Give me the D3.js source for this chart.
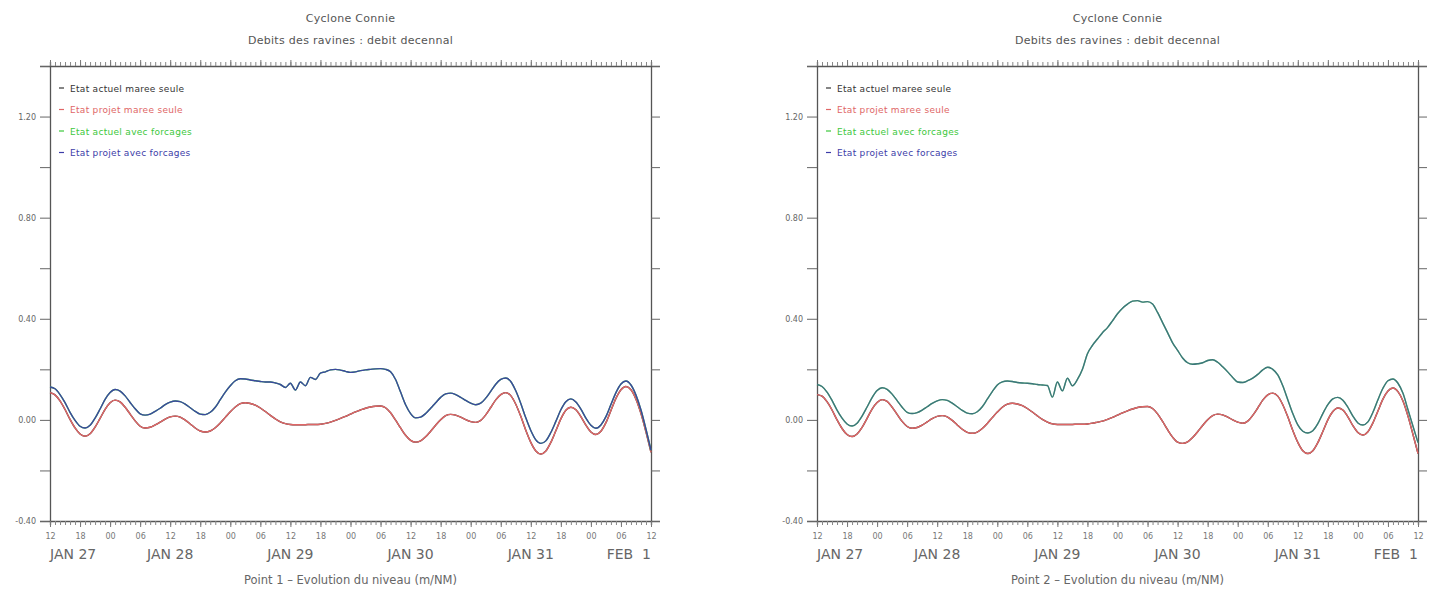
<!DOCTYPE html>
<html>
<head>
<meta charset="utf-8">
<script src="https://cdn.jsdelivr.net/npm/d3@7"></script>
<style>
  body { margin: 0; background: #fff; }
  svg { display: block; }
  text { font-family: "DejaVu Sans", sans-serif; fill: #555; }
</style>
</head>
<body>
<svg id="chart" width="1442" height="594"></svg>
<script>
// ---- Data -------------------------------------------------------------
// Hourly water levels (m/NM), 27 Jan 12h -> 1 Feb 12h (121 values).
const startTime = Date.UTC(2000, 0, 27, 12);
const endTime = Date.UTC(2000, 1, 1, 12);

const titleLines = ["Cyclone Connie", "Debits des ravines : debit decennal"];
const pointLabels = ["Point 1 \u2013 Evolution du niveau (m/NM)", "Point 2 \u2013 Evolution du niveau (m/NM)"];
const seriesNames = ["Etat actuel maree seule", "Etat projet maree seule", "Etat actuel avec forcages", "Etat projet avec forcages"];
const seriesColors = ["#333333", "#e06666", "#3cc83c", "#3c3ca8"];

const yTickValues = [-0.4, -0.2, 0.0, 0.2, 0.4, 0.6, 0.8, 1.0, 1.2, 1.4];
const yTickLabels = ["-0.40", "", "0.00", "", "0.40", "", "0.80", "", "1.20", ""];
const dayLabels = ["JAN 27", "JAN 28", "JAN 29", "JAN 30", "JAN 31", "FEB  1"];

// Point 1 - tide only (actual and project states)
const p1ActuelMaree = [
  0.108, 0.099, 0.075, 0.041, 0.002, -0.032, -0.056, -0.065, -0.055, -0.029,
  0.006, 0.042, 0.068, 0.078, 0.071, 0.050, 0.023, -0.004, -0.025, -0.032,
  -0.029, -0.020, -0.009, 0.003, 0.012, 0.015, 0.011, -0.001, -0.016, -0.032,
  -0.044, -0.048, -0.044, -0.031, -0.012, 0.010, 0.032, 0.051, 0.064, 0.068,
  0.065, 0.058, 0.047, 0.033, 0.018, 0.004, -0.008, -0.015, -0.018, -0.019,
  -0.019, -0.019, -0.018, -0.018, -0.017, -0.014, -0.009, -0.002, 0.006, 0.014,
  0.023, 0.032, 0.039, 0.046, 0.051, 0.054, 0.055, 0.048, 0.028, -0.001,
  -0.032, -0.061, -0.081, -0.088, -0.083, -0.067, -0.045, -0.021, 0.001, 0.017,
  0.022, 0.019, 0.011, 0.001, -0.007, -0.010, -0.002, 0.020, 0.049, 0.079,
  0.100, 0.108, 0.096, 0.062, 0.014, -0.041, -0.089, -0.123, -0.135, -0.123,
  -0.089, -0.043, 0.004, 0.038, 0.050, 0.040, 0.013, -0.021, -0.048, -0.058,
  -0.045, -0.011, 0.037, 0.085, 0.119, 0.132, 0.119, 0.082, 0.025, -0.048,
  -0.128
];
const p1ProjetMaree = p1ActuelMaree;

// Point 1 - tide with cyclone forcing
const p1ActuelForcages = [
  0.130, 0.123, 0.100, 0.068, 0.030, -0.002, -0.025, -0.032, -0.021, 0.007,
  0.043, 0.081, 0.108, 0.120, 0.114, 0.095, 0.069, 0.044, 0.024, 0.019,
  0.023, 0.034, 0.046, 0.060, 0.070, 0.075, 0.072, 0.062, 0.048, 0.034,
  0.023, 0.021, 0.030, 0.050, 0.080, 0.110, 0.135, 0.155, 0.163, 0.162,
  0.158, 0.155, 0.152, 0.150, 0.150, 0.146, 0.140, 0.128, 0.145, 0.118,
  0.150, 0.135, 0.168, 0.160, 0.185, 0.190, 0.198, 0.200, 0.197, 0.192,
  0.188, 0.190, 0.195, 0.198, 0.200, 0.202, 0.203, 0.200, 0.190, 0.160,
  0.110, 0.060, 0.025, 0.008, 0.011, 0.025, 0.046, 0.068, 0.089, 0.103,
  0.106, 0.100, 0.089, 0.077, 0.066, 0.060, 0.066, 0.086, 0.113, 0.141,
  0.160, 0.166, 0.152, 0.115, 0.065, 0.008, -0.042, -0.079, -0.093, -0.083,
  -0.050, -0.006, 0.040, 0.072, 0.083, 0.071, 0.043, 0.007, -0.021, -0.033,
  -0.020, 0.013, 0.061, 0.108, 0.142, 0.154, 0.138, 0.098, 0.039, -0.037,
  -0.120
];
const p1ProjetForcages = p1ActuelForcages;

// Point 2 - tide only
const p2ActuelMaree = [
  0.100, 0.094, 0.072, 0.039, 0.000, -0.034, -0.058, -0.066, -0.056, -0.030,
  0.006, 0.043, 0.069, 0.080, 0.073, 0.050, 0.022, -0.006, -0.026, -0.033,
  -0.030, -0.021, -0.008, 0.005, 0.014, 0.017, 0.012, -0.002, -0.020, -0.037,
  -0.049, -0.053, -0.048, -0.034, -0.014, 0.009, 0.031, 0.050, 0.062, 0.066,
  0.063, 0.056, 0.045, 0.031, 0.016, 0.002, -0.009, -0.016, -0.018, -0.018,
  -0.018, -0.018, -0.017, -0.017, -0.016, -0.013, -0.009, -0.005, 0.002, 0.010,
  0.019, 0.028, 0.036, 0.043, 0.049, 0.052, 0.053, 0.045, 0.024, -0.006,
  -0.039, -0.068, -0.088, -0.093, -0.087, -0.070, -0.047, -0.022, 0.001, 0.017,
  0.023, 0.020, 0.011, 0.000, -0.009, -0.013, -0.005, 0.018, 0.047, 0.078,
  0.099, 0.106, 0.094, 0.060, 0.012, -0.042, -0.089, -0.122, -0.133, -0.122,
  -0.090, -0.046, 0.000, 0.033, 0.047, 0.039, 0.012, -0.023, -0.050, -0.060,
  -0.047, -0.012, 0.035, 0.082, 0.114, 0.126, 0.112, 0.075, 0.015, -0.058,
  -0.133
];
const p2ProjetMaree = p2ActuelMaree;

// Point 2 - tide with cyclone forcing
const p2ActuelForcages = [
  0.140, 0.132, 0.110, 0.077, 0.039, 0.007, -0.016, -0.024, -0.013, 0.015,
  0.051, 0.088, 0.116, 0.127, 0.121, 0.102, 0.076, 0.050, 0.030, 0.025,
  0.029, 0.039, 0.052, 0.065, 0.075, 0.080, 0.077, 0.066, 0.052, 0.038,
  0.027, 0.024, 0.032, 0.052, 0.082, 0.112, 0.138, 0.150, 0.154, 0.152,
  0.148, 0.146, 0.145, 0.143, 0.140, 0.138, 0.136, 0.090, 0.150, 0.115,
  0.165, 0.135, 0.160, 0.200, 0.262, 0.295, 0.320, 0.345, 0.365, 0.392,
  0.420, 0.442, 0.458, 0.470, 0.472, 0.466, 0.468, 0.458, 0.425, 0.385,
  0.345, 0.305, 0.275, 0.245, 0.226, 0.220, 0.222, 0.226, 0.235, 0.238,
  0.228, 0.210, 0.190, 0.168, 0.150, 0.148, 0.155, 0.165, 0.180, 0.198,
  0.208, 0.200, 0.178, 0.135, 0.080, 0.025, -0.020, -0.045, -0.052, -0.043,
  -0.015, 0.025, 0.060, 0.083, 0.089, 0.078, 0.050, 0.015, -0.012, -0.020,
  -0.008, 0.030, 0.080, 0.125, 0.155, 0.162, 0.145, 0.105, 0.040, -0.025,
  -0.090
];
const p2ProjetForcages = p2ActuelForcages;

// stroke opacity of each series, per panel (later series drawn on top)
const panels = [
  { left: 50,  label: pointLabels[0], opacity: [1, 1, 1, 0.92],
    series: [p1ActuelMaree, p1ProjetMaree, p1ActuelForcages, p1ProjetForcages] },
  { left: 817, label: pointLabels[1], opacity: [1, 1, 1, 0.6],
    series: [p2ActuelMaree, p2ProjetMaree, p2ActuelForcages, p2ProjetForcages] }
];

// ---- Drawing ----------------------------------------------------------
const svg = d3.select("#chart");
const plotW = 601, plotTop = 66, plotBottom = 521;
const times = d3.utcHour.range(new Date(startTime), new Date(endTime + 1));

panels.forEach(p => {
  const g = svg.append("g");
  const x = d3.scaleUtc().domain([new Date(startTime), new Date(endTime)]).range([p.left, p.left + plotW]);
  const y = d3.scaleLinear().domain([-0.4, 1.4]).range([plotBottom, plotTop]);
  const cx = p.left + plotW / 2;

  // titles
  g.append("text").attr("x", cx).attr("y", 22).attr("text-anchor", "middle")
    .style("font-size", "11px").style("letter-spacing", "0.3px").text(titleLines[0]);
  g.append("text").attr("x", cx).attr("y", 44).attr("text-anchor", "middle")
    .style("font-size", "11px").style("letter-spacing", "0.3px").text(titleLines[1]);

  // y axes
  const yl = g.append("g").attr("transform", `translate(${p.left},0)`)
    .call(d3.axisLeft(y).tickValues(yTickValues).tickSize(10).tickPadding(4)
      .tickFormat((d, i) => yTickLabels[i]));
  const yr = g.append("g").attr("transform", `translate(${p.left + plotW},0)`)
    .call(d3.axisRight(y).tickValues(yTickValues).tickSize(9).tickFormat(""));
  [yl, yr].forEach(a => {
    a.select(".domain").attr("stroke", "#555").attr("stroke-width", 1.3);
    a.selectAll(".tick line").attr("stroke", "#666");
    a.selectAll("text").style("font-size", "8px").style("fill", "#666");
  });

  // x axes: hourly minor ticks, 6-hourly labelled ticks
  const xAxes = [
    [d3.axisBottom, plotBottom], [d3.axisTop, plotTop]
  ];
  xAxes.forEach(([axisFn, yPos]) => {
    const minor = g.append("g").attr("transform", `translate(0,${yPos})`)
      .call(axisFn(x).ticks(d3.utcHour.every(1)).tickSize(4).tickFormat(""));
    minor.select(".domain").attr("stroke", "#555").attr("stroke-width", 1.3);
    minor.selectAll(".tick line").attr("stroke", "#888");
    const major = g.append("g").attr("transform", `translate(0,${yPos})`)
      .call(axisFn(x).ticks(d3.utcHour.every(6)).tickSize(6).tickPadding(6)
        .tickFormat(axisFn === d3.axisBottom ? d3.utcFormat("%H") : ""));
    major.select(".domain").remove();
    major.selectAll(".tick line").attr("stroke", "#777");
    major.selectAll("text").style("font-size", "8px").style("fill", "#777");
  });

  // day labels, centred on noon and kept inside the frame
  const days = d3.utcDay.range(new Date(startTime - 12 * 3600e3), new Date(endTime));
  days.forEach((d, i) => {
    const noon = new Date(d.getTime() + 12 * 3600e3);
    let anchor = "middle";
    if (i === 0) anchor = "start";
    if (i === days.length - 1) anchor = "end";
    g.append("text").attr("x", x(noon)).attr("y", 559).attr("text-anchor", anchor)
      .attr("xml:space", "preserve")
      .style("font-size", "14px").style("fill", "#666").text(dayLabels[i]);
  });

  g.append("text").attr("x", cx).attr("y", 584).attr("text-anchor", "middle")
    .style("font-size", "11.5px").style("fill", "#666").text(p.label);

  // series
  const line = d3.line().x((d, i) => x(times[i])).y(d => y(d)).curve(d3.curveMonotoneX);
  p.series.forEach((vals, k) => {
    g.append("path").datum(vals).attr("fill", "none")
      .attr("stroke", seriesColors[k]).attr("stroke-width", 1.4)
      .attr("stroke-opacity", p.opacity[k])
      .attr("d", line);
  });

  // legend
  seriesNames.forEach((name, k) => {
    const ly = 88 + k * 21.5;
    g.append("line").attr("x1", p.left + 9).attr("x2", p.left + 14).attr("y1", ly).attr("y2", ly)
      .attr("stroke", seriesColors[k]).attr("stroke-width", 1.2);
    g.append("text").attr("x", p.left + 20).attr("y", ly + 3.5)
      .style("font-size", "9px").style("letter-spacing", "0.3px")
      .style("fill", seriesColors[k]).text(name);
  });
});
</script>
</body>
</html>
